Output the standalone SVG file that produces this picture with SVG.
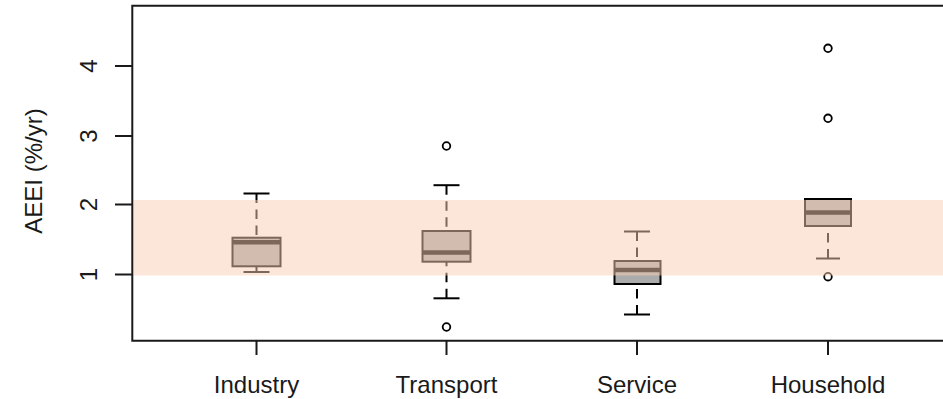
<svg xmlns="http://www.w3.org/2000/svg" width="943" height="399" viewBox="0 0 943 399">
<style>
  text { font-family: "Liberation Sans", Arial, sans-serif; font-size: 24px; fill: #1a1a1a; }
  .box { fill: #ABABAB; stroke: #000; stroke-width: 2; }
  .med { stroke: #000; stroke-width: 4.6; }
  .wh { stroke: #000; stroke-width: 2; stroke-dasharray: 9.5 6.5; fill: none; }
  .cap { stroke: #000; stroke-width: 2; }
  .out { fill: none; stroke: #000; stroke-width: 1.8; }
  .axis { stroke: #1a1a1a; stroke-width: 2; fill: none; }
</style>
<rect x="0" y="0" width="943" height="399" fill="#fff"/>

<g id="industry">
  <line class="wh" x1="256.5" y1="193.5" x2="256.5" y2="237.7"/>
  <line class="cap" x1="243.5" y1="193.5" x2="269.5" y2="193.5"/>
  <line class="cap" x1="256.5" y1="266.3" x2="256.5" y2="272"/>
  <line class="cap" x1="243.5" y1="272" x2="269.5" y2="272"/>
  <rect class="box" x="232.5" y="237.7" width="48" height="28.6"/>
  <line class="med" x1="232.5" y1="242.2" x2="280.5" y2="242.2"/>
</g>

<g id="transport">
  <line class="wh" x1="446.5" y1="185.2" x2="446.5" y2="231"/>
  <line class="wh" x1="446.5" y1="298.3" x2="446.5" y2="261.7"/>
  <line class="cap" x1="433.5" y1="185.2" x2="459.5" y2="185.2"/>
  <line class="cap" x1="433.5" y1="298.3" x2="459.5" y2="298.3"/>
  <rect class="box" x="422.5" y="231" width="48" height="30.7"/>
  <line class="med" x1="422.5" y1="252.5" x2="470.5" y2="252.5"/>
  <circle class="out" cx="446.5" cy="146" r="3.8"/>
  <circle class="out" cx="446.5" cy="327" r="3.8"/>
</g>

<g id="service">
  <line class="wh" x1="637" y1="231.5" x2="637" y2="261"/>
  <line class="wh" x1="637" y1="314.5" x2="637" y2="284"/>
  <line class="cap" x1="624" y1="231.5" x2="650" y2="231.5"/>
  <line class="cap" x1="624" y1="314.5" x2="650" y2="314.5"/>
  <rect class="box" x="614.5" y="261" width="46" height="23"/>
  <line class="med" x1="614.5" y1="270" x2="660.5" y2="270"/>
</g>

<g id="household">
  <line class="wh" x1="828" y1="258.5" x2="828" y2="226"/>
  <line class="cap" x1="816" y1="258.5" x2="840" y2="258.5"/>
  <rect class="box" x="805" y="199" width="46" height="27"/>
  <line class="med" x1="805" y1="212.5" x2="851" y2="212.5"/>
  <circle class="out" cx="828" cy="48.3" r="3.8"/>
  <circle class="out" cx="828" cy="118.3" r="3.8"/>
  <circle class="out" cx="828" cy="276.7" r="3.8"/>
</g>

<rect id="band" x="133.5" y="200" width="810" height="75.5" fill="#F8CEB4" fill-opacity="0.5"/>

<g id="axes">
  <path class="axis" d="M943 5.7 H132.3 V340.7 H943"/>
  <path class="axis" d="M115 66 H132 M115 136 H132 M115 204.5 H132 M115 274.5 H132"/>
  <path class="axis" d="M256.5 341 V355 M446.5 341 V355 M637 341 V355 M828 341 V355"/>
</g>

<g id="labels">
  <text transform="translate(97,66) rotate(-90)" text-anchor="middle">4</text>
  <text transform="translate(97,136) rotate(-90)" text-anchor="middle">3</text>
  <text transform="translate(97,204.5) rotate(-90)" text-anchor="middle">2</text>
  <text transform="translate(97,274.5) rotate(-90)" text-anchor="middle">1</text>
  <text transform="translate(42,171) rotate(-90)" text-anchor="middle">AEEI (%/yr)</text>
  <text x="256.5" y="393" text-anchor="middle">Industry</text>
  <text x="446.5" y="393" text-anchor="middle">Transport</text>
  <text x="637" y="393" text-anchor="middle">Service</text>
  <text x="828" y="393" text-anchor="middle">Household</text>
</g>
</svg>
